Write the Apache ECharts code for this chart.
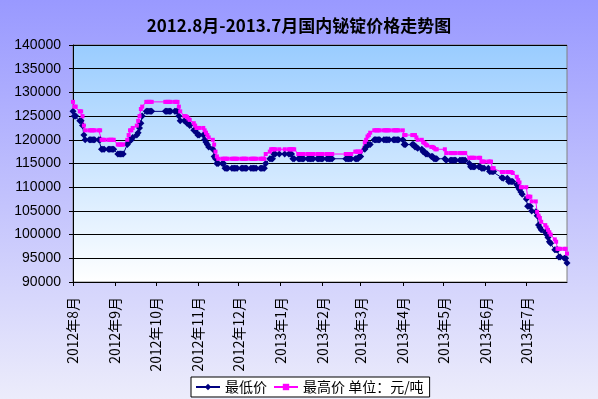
<!DOCTYPE html>
<html>
<head>
<meta charset="utf-8">
<script src="https://cdn.jsdelivr.net/npm/echarts@6/dist/echarts.min.js"></script>
<style>html,body{margin:0;padding:0;}#c{width:598px;height:399px;}</style>
</head>
<body>
<div id="c"></div>
<script>
const titleText = '2012.8月-2013.7月国内铋锭价格走势图';
const seriesNames = ['最低价', '最高价 单位：元/吨'];
const yTicks = { min: 90000, max: 140000, step: 5000 };
const xRange = ['2012-08-01', '2013-07-31'];

const dates = [
'2012-08-01','2012-08-02','2012-08-03',
'2012-08-06','2012-08-07','2012-08-08','2012-08-09','2012-08-10',
'2012-08-13','2012-08-14','2012-08-15','2012-08-16','2012-08-17',
'2012-08-20','2012-08-21','2012-08-22','2012-08-23','2012-08-24',
'2012-08-27','2012-08-28','2012-08-29','2012-08-30','2012-08-31',
'2012-09-03','2012-09-04','2012-09-05','2012-09-06','2012-09-07',
'2012-09-10','2012-09-11','2012-09-12','2012-09-13','2012-09-14',
'2012-09-17','2012-09-18','2012-09-19','2012-09-20','2012-09-21',
'2012-09-24','2012-09-25','2012-09-26','2012-09-27','2012-09-28',
'2012-10-08','2012-10-09','2012-10-10','2012-10-11','2012-10-12',
'2012-10-15','2012-10-16','2012-10-17','2012-10-18','2012-10-19',
'2012-10-22','2012-10-23','2012-10-24','2012-10-25','2012-10-26',
'2012-10-29','2012-10-30','2012-10-31','2012-11-01','2012-11-02',
'2012-11-05','2012-11-06','2012-11-07','2012-11-08','2012-11-09',
'2012-11-12','2012-11-13','2012-11-14','2012-11-15','2012-11-16',
'2012-11-19','2012-11-20','2012-11-21','2012-11-22','2012-11-23',
'2012-11-26','2012-11-27','2012-11-28','2012-11-29','2012-11-30',
'2012-12-03','2012-12-04','2012-12-05','2012-12-06','2012-12-07',
'2012-12-10','2012-12-11','2012-12-12','2012-12-13','2012-12-14',
'2012-12-17','2012-12-18','2012-12-19','2012-12-20','2012-12-21',
'2012-12-24','2012-12-25','2012-12-26','2012-12-27','2012-12-28',
'2012-12-31','2013-01-04',
'2013-01-07','2013-01-08','2013-01-09','2013-01-10','2013-01-11',
'2013-01-14','2013-01-15','2013-01-16','2013-01-17','2013-01-18',
'2013-01-21','2013-01-22','2013-01-23','2013-01-24','2013-01-25',
'2013-01-28','2013-01-29','2013-01-30','2013-01-31','2013-02-01',
'2013-02-04','2013-02-05','2013-02-06','2013-02-07','2013-02-08',
'2013-02-18','2013-02-19','2013-02-20','2013-02-21','2013-02-22',
'2013-02-25','2013-02-26','2013-02-27','2013-02-28','2013-03-01',
'2013-03-04','2013-03-05','2013-03-06','2013-03-07','2013-03-08',
'2013-03-11','2013-03-12','2013-03-13','2013-03-14','2013-03-15',
'2013-03-18','2013-03-19','2013-03-20','2013-03-21','2013-03-22',
'2013-03-25','2013-03-26','2013-03-27','2013-03-28','2013-03-29',
'2013-04-01','2013-04-02','2013-04-03',
'2013-04-08','2013-04-09','2013-04-10','2013-04-11','2013-04-12',
'2013-04-15','2013-04-16','2013-04-17','2013-04-18','2013-04-19',
'2013-04-22','2013-04-23','2013-04-24','2013-04-25','2013-04-26',
'2013-05-02','2013-05-03',
'2013-05-06','2013-05-07','2013-05-08','2013-05-09','2013-05-10',
'2013-05-13','2013-05-14','2013-05-15','2013-05-16','2013-05-17',
'2013-05-20','2013-05-21','2013-05-22','2013-05-23','2013-05-24',
'2013-05-27','2013-05-28','2013-05-29','2013-05-30','2013-05-31',
'2013-06-03','2013-06-04','2013-06-05','2013-06-06','2013-06-07',
'2013-06-13','2013-06-14',
'2013-06-17','2013-06-18','2013-06-19','2013-06-20','2013-06-21',
'2013-06-24','2013-06-25','2013-06-26','2013-06-27','2013-06-28',
'2013-07-01','2013-07-02','2013-07-03','2013-07-04','2013-07-05',
'2013-07-08','2013-07-09','2013-07-10','2013-07-11','2013-07-12',
'2013-07-15','2013-07-16','2013-07-17','2013-07-18','2013-07-19',
'2013-07-22','2013-07-23','2013-07-24','2013-07-25','2013-07-26',
'2013-07-29','2013-07-30','2013-07-31'
];

const lowPrices = [
126000,125000,125000,
124000,124000,123000,121000,120000,
120000,120000,120000,120000,120000,
120000,120000,118000,118000,118000,
118000,118000,118000,118000,118000,
117000,117000,117000,117000,117000,
119000,119500,120000,120000,120500,
121000,121500,122500,123500,125000,
126000,126000,126000,126000,126000,
126000,126000,126000,126000,126000,
126000,126000,126000,125000,124000,
124000,124000,123500,123500,123000,
122000,122000,121500,121000,121000,
121000,120000,119500,119000,118500,
118000,116500,116000,115000,115000,
115000,115000,114000,114000,114000,
114000,114000,114000,114000,114000,
114000,114000,114000,114000,114000,
114000,114000,114000,114000,114000,
114000,114000,114000,114000,115000,
116000,116000,116000,117000,117000,
117000,117000,
117000,117000,117000,116000,116000,
116000,116000,116000,116000,116000,
116000,116000,116000,116000,116000,
116000,116000,116000,116000,116000,
116000,116000,116000,116000,116000,
116000,116000,116000,116000,116000,
116000,116000,116000,116500,116500,
118000,118500,119000,119000,119000,
120000,120000,120000,120000,120000,
120000,120000,120000,120000,120000,
120000,120000,120000,120000,120000,
120000,119000,119000,
119000,119000,118500,118500,118200,
118000,117500,117500,117000,117000,
116500,116500,116000,116000,116000,
116000,115700,
115700,115700,115700,115700,115700,
115700,115700,115700,115700,115700,
115000,114300,114300,114300,114300,
114300,114300,114000,114000,114000,
114000,113300,113300,113300,113300,
112000,111900,
111900,111200,111200,111200,111200,
110500,110000,109500,109000,108500,
107500,106000,106000,106000,105000,
104800,104000,102000,101500,101000,
100500,100000,99400,98500,98200,
96800,96800,96800,95300,95300,
95000,95000,94000
];

const highPrices = [
128000,127000,127000,
126000,126000,125000,123000,122000,
122000,122000,122000,122000,122000,
122000,122000,120000,120000,120000,
120000,120000,120000,120000,120000,
119000,119000,119000,119000,119000,
120000,121000,122000,122000,122500,
123000,124000,125000,126500,127000,
128000,128000,128000,128000,128000,
128000,128000,128000,128000,128000,
128000,128000,128000,127000,126000,
125000,125000,124800,124500,124200,
123500,123000,122500,122500,122500,
122500,122000,121500,121000,120500,
120000,119000,117500,116500,116000,
116000,116000,116000,116000,116000,
116000,116000,116000,116000,116000,
116000,116000,116000,116000,116000,
116000,116000,116000,116000,116000,
116000,116000,116000,116000,117000,
117500,118000,118000,118000,118000,
118000,118000,
118000,118000,118000,118000,118000,
117000,117000,117000,117000,117000,
117000,117000,117000,117000,117000,
117000,117000,117000,117000,117000,
117000,117000,117000,117000,117000,
117000,117000,117000,117000,117000,
117500,117500,117500,117500,117500,
119500,120000,120700,121000,121500,
122000,122000,122000,122000,122000,
122000,122000,122000,122000,122000,
122000,122000,122000,122000,122000,
122000,121000,121000,
121000,121000,121000,120500,120000,
120000,119500,119300,119000,118800,
118500,118500,118300,118000,118000,
118000,117200,
117200,117200,117200,117200,117200,
117200,117200,117200,117200,117200,
116200,116200,116200,116200,116200,
116200,116200,115400,115400,115400,
115400,115400,115400,114000,114000,
113200,113200,
113200,113200,113200,113200,113000,
112200,111500,111000,110000,110000,
110000,108000,108000,108000,107000,
107000,104800,104000,103500,102700,
102000,101500,101000,100500,100000,
99000,98500,97000,97000,97000,
97000,97000,96000
];

const chart = echarts.init(document.getElementById('c'), null, { renderer: 'canvas' });
const lowData = dates.map((d, i) => [d, lowPrices[i]]);
const highData = dates.map((d, i) => [d, highPrices[i]]);
const DAY = 24 * 3600 * 1000;

chart.setOption({
  animation: false,
  backgroundColor: new echarts.graphic.LinearGradient(0, 0, 0, 1, [
    { offset: 0, color: '#9999ff' },
    { offset: 1, color: '#ececfb' }
  ]),
  title: {
    text: titleText,
    left: 'center',
    top: 12,
    textStyle: { fontFamily: 'Noto Sans CJK SC', fontSize: 17, fontWeight: 'bold', color: '#000' }
  },
  legend: {
    left: 191,
    top: 377,
    padding: [3, 6, 3, 4],
    backgroundColor: '#ffffff',
    borderColor: '#000',
    borderWidth: 1,
    borderRadius: 0,
    itemWidth: 24,
    itemHeight: 8,
    itemGap: 6,
    textStyle: { fontFamily: 'Noto Sans CJK SC', fontSize: 14, color: '#000' },
    data: seriesNames
  },
  grid: {
    left: 73, right: 31, top: 45, bottom: 117,
    show: true,
    borderColor: '#808080',
    borderWidth: 1,
    backgroundColor: new echarts.graphic.LinearGradient(0, 0, 0, 1, [
      { offset: 0, color: '#99ccff' },
      { offset: 1, color: '#ffffff' }
    ])
  },
  xAxis: {
    type: 'time',
    min: xRange[0],
    max: xRange[1],
    splitNumber: 12,
    minInterval: 28 * DAY,
    maxInterval: 31 * DAY,
    axisLine: { show: true, lineStyle: { color: '#000', width: 1 } },
    axisTick: { show: true, length: 4, lineStyle: { color: '#000' } },
    splitLine: { show: false },
    axisLabel: {
      rotate: 90,
      margin: 15,
      showMaxLabel: false,
      hideOverlap: false,
      fontFamily: 'Noto Sans CJK SC',
      fontSize: 14,
      color: '#000',
      formatter: '{yyyy}年{M}月'
    }
  },
  yAxis: {
    type: 'value',
    min: yTicks.min,
    max: yTicks.max,
    interval: yTicks.step,
    axisLine: { show: true, lineStyle: { color: '#000', width: 1 } },
    axisTick: { show: true, length: 4, lineStyle: { color: '#000' } },
    splitLine: { show: true, lineStyle: { color: '#000', width: 1 } },
    axisLabel: {
      margin: 12, fontFamily: 'Liberation Sans', fontSize: 14, color: '#000',
      formatter: function (v) { return String(v); }
    }
  },
  series: [
    {
      name: seriesNames[0],
      type: 'line',
      data: lowData,
      symbol: 'diamond',
      symbolSize: 7,
      showAllSymbol: true,
      lineStyle: { color: '#000080', width: 1 },
      itemStyle: { color: '#000080' }
    },
    {
      name: seriesNames[1],
      type: 'line',
      data: highData,
      symbol: 'rect',
      symbolSize: 4,
      showAllSymbol: true,
      lineStyle: { color: '#ff00ff', width: 1 },
      itemStyle: { color: '#ff00ff' }
    }
  ]
});
</script>
</body>
</html>
